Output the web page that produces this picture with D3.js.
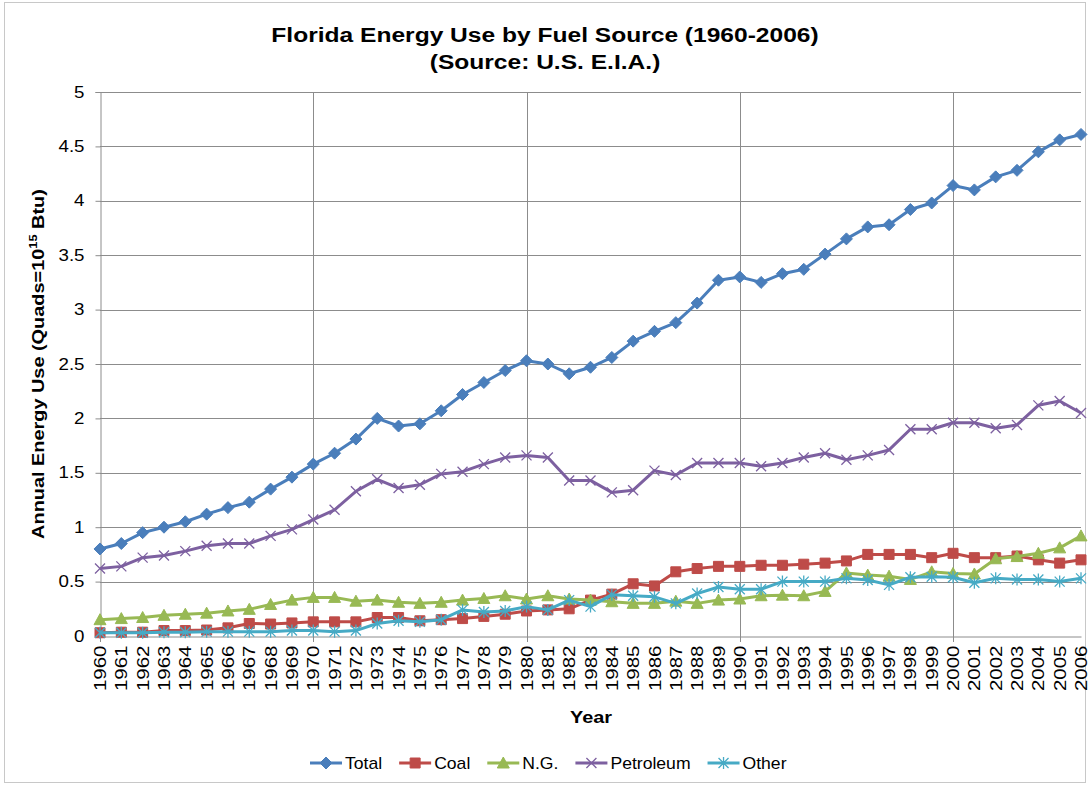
<!DOCTYPE html>
<html>
<head>
<meta charset="utf-8">
<script src="https://cdn.jsdelivr.net/npm/d3@7"></script>
<style>
  body { margin: 0; background: #fff; }
  text { font-family: "Liberation Sans", Arial, sans-serif; fill: #000; }
</style>
</head>
<body>
<div id="chart"></div>
<script>
let years = d3.range(1960, 2007);
let total = [0.80, 0.85, 0.95, 1.00, 1.05, 1.12, 1.18, 1.23, 1.35, 1.46,
    1.58, 1.68, 1.81, 2.00, 1.93, 1.95, 2.07, 2.22, 2.33, 2.44,
    2.53, 2.50, 2.41, 2.47, 2.56, 2.71, 2.80, 2.88, 3.06, 3.27,
    3.30, 3.25, 3.33, 3.37, 3.51, 3.65, 3.76, 3.78, 3.92, 3.98,
    4.14, 4.10, 4.22, 4.28, 4.45, 4.56, 4.61];
let coal = [0.03, 0.035, 0.035, 0.05, 0.05, 0.055, 0.075, 0.115, 0.11, 0.12,
    0.13, 0.13, 0.13, 0.17, 0.17, 0.14, 0.15, 0.16, 0.18, 0.20,
    0.23, 0.24, 0.25, 0.33, 0.385, 0.48, 0.46, 0.59, 0.62, 0.64,
    0.64, 0.65, 0.65, 0.66, 0.67, 0.69, 0.75, 0.75, 0.75, 0.72,
    0.76, 0.72, 0.72, 0.735, 0.70, 0.67, 0.70];
let ng = [0.15, 0.16, 0.17, 0.19, 0.20, 0.21, 0.23, 0.245, 0.29, 0.33,
    0.355, 0.355, 0.32, 0.33, 0.31, 0.30, 0.31, 0.33, 0.345, 0.37,
    0.34, 0.37, 0.34, 0.33, 0.315, 0.30, 0.30, 0.32, 0.30, 0.33,
    0.34, 0.37, 0.375, 0.37, 0.41, 0.58, 0.56, 0.55, 0.52, 0.59,
    0.575, 0.57, 0.71, 0.73, 0.76, 0.81, 0.92];
let petroleum = [0.62, 0.64, 0.72, 0.74, 0.78, 0.83, 0.85, 0.85, 0.92, 0.98,
    1.07, 1.16, 1.33, 1.44, 1.36, 1.39, 1.49, 1.51, 1.58, 1.64,
    1.66, 1.64, 1.43, 1.43, 1.32, 1.34, 1.52, 1.48, 1.59, 1.59,
    1.59, 1.56, 1.59, 1.64, 1.68, 1.62, 1.66, 1.71, 1.90, 1.90,
    1.96, 1.96, 1.91, 1.94, 2.12, 2.16, 2.05];
let other = [0.03, 0.03, 0.03, 0.035, 0.035, 0.04, 0.04, 0.04, 0.04, 0.05,
    0.05, 0.04, 0.05, 0.115, 0.14, 0.13, 0.15, 0.24, 0.22, 0.23,
    0.27, 0.24, 0.33, 0.27, 0.38, 0.37, 0.36, 0.30, 0.39, 0.45,
    0.43, 0.43, 0.50, 0.50, 0.50, 0.53, 0.515, 0.47, 0.54, 0.545,
    0.54, 0.49, 0.53, 0.52, 0.52, 0.50, 0.53];
let yTicks = [0, 0.5, 1, 1.5, 2, 2.5, 3, 3.5, 4, 4.5, 5];

let seriesList = [
    { name: 'Total', values: total, color: '#4a7ebb', marker: 'diamond' },
    { name: 'Coal', values: coal, color: '#be4b48', marker: 'square' },
    { name: 'N.G.', values: ng, color: '#98b954', marker: 'triangle' },
    { name: 'Petroleum', values: petroleum, color: '#7d60a0', marker: 'x' },
    { name: 'Other', values: other, color: '#46aac5', marker: 'star' }
];

let width = 1090;
let height = 786;
let plot = { left: 100, right: 1081, top: 92, bottom: 636 };
// the reference text is drawn a little wider than normal
let stretch = 1.17;

let svg = d3.select('#chart').append('svg')
    .attr('width', width)
    .attr('height', height);

// outer frame
svg.append('rect')
    .attr('x', 4.5).attr('y', 2.5)
    .attr('width', 1081).attr('height', 780)
    .attr('fill', '#fff')
    .attr('stroke', '#c8c8c8');

let x = d3.scalePoint().domain(years).range([plot.left, plot.right]);
let y = d3.scaleLinear().domain([0, 5]).range([plot.bottom, plot.top]);

// gridlines
svg.append('g').selectAll('line')
    .data(yTicks.slice(1))
    .enter().append('line')
    .attr('x1', plot.left).attr('x2', plot.right)
    .attr('y1', d => Math.round(y(d)) + 0.5).attr('y2', d => Math.round(y(d)) + 0.5)
    .attr('stroke', '#8c8c8c');
svg.append('g').selectAll('line')
    .data(years.filter(d => d % 10 == 0 && d != 1960))
    .enter().append('line')
    .attr('x1', d => Math.round(x(d)) + 0.5).attr('x2', d => Math.round(x(d)) + 0.5)
    .attr('y1', plot.top).attr('y2', plot.bottom)
    .attr('stroke', '#8c8c8c');

// y axis
let yAxis = svg.append('g')
    .attr('transform', 'translate(' + (plot.left + 0.5) + ',0)')
    .call(d3.axisLeft(y).tickValues(yTicks).tickSize(5)
        .tickFormat(d => String(d)));
yAxis.select('.domain').attr('stroke', '#8c8c8c');
yAxis.selectAll('.tick line').attr('stroke', '#8c8c8c');
yAxis.selectAll('text')
    .style('font-size', '16px')
    .attr('fill', '#000')
    .attr('x', 0)
    .attr('transform', 'translate(-16,0) scale(' + stretch + ',1)');

// x axis
let xAxis = svg.append('g')
    .attr('transform', 'translate(0,' + (plot.bottom + 0.5) + ')')
    .call(d3.axisBottom(x).tickSize(0).tickPadding(0));
xAxis.select('.domain').attr('stroke', '#8c8c8c');
xAxis.selectAll('text')
    .style('font-size', '16px')
    .attr('fill', '#000')
    .attr('x', 0).attr('y', 0).attr('dy', '0.35em')
    .attr('transform', 'rotate(-90) translate(-9,0) scale(1.28,1)')
    .attr('text-anchor', 'end');
svg.append('g').selectAll('line')
    .data(years.filter(d => d % 10 == 0))
    .enter().append('line')
    .attr('x1', d => Math.round(x(d)) + 0.5).attr('x2', d => Math.round(x(d)) + 0.5)
    .attr('y1', plot.bottom).attr('y2', plot.bottom + 6)
    .attr('stroke', '#8c8c8c');

// markers
function markerPath(type) {
    switch (type) {
        case 'diamond': return 'M0,-6L6,0L0,6L-6,0Z';
        case 'square': return 'M-5,-5H5V5H-5Z';
        case 'triangle': return 'M0,-6L6,5H-6Z';
        case 'x': return 'M-5,-5L5,5M-5,5L5,-5';
        case 'star': return 'M-5,-5L5,5M-5,5L5,-5M0,-6V6';
    }
}

function drawMarker(g, s, px, py) {
    let open = s.marker == 'x' || s.marker == 'star';
    g.append('path')
        .attr('d', markerPath(s.marker))
        .attr('transform', 'translate(' + px + ',' + py + ')')
        .attr('fill', open ? 'none' : s.color)
        .attr('stroke', s.color)
        .attr('stroke-width', open ? 1.3 : 1);
}

let line = d3.line()
    .x((d, i) => x(years[i]))
    .y(d => y(d));

seriesList.forEach(function (s) {
    let g = svg.append('g');
    g.append('path')
        .attr('d', line(s.values))
        .attr('fill', 'none')
        .attr('stroke', s.color)
        .attr('stroke-width', 3)
        .attr('stroke-linejoin', 'round');
    s.values.forEach(function (v, i) {
        drawMarker(g, s, x(years[i]), y(v));
    });
});

// titles
function stretchedText(px, py, size, bold, str) {
    return svg.append('text')
        .attr('transform', 'translate(' + px + ',' + py + ') scale(' + stretch + ',1)')
        .attr('text-anchor', 'middle')
        .style('font-size', size + 'px')
        .style('font-weight', bold ? 'bold' : 'normal')
        .text(str);
}
stretchedText(545, 42, 21, true, 'Florida Energy Use by Fuel Source (1960-2006)');
stretchedText(545, 69, 21, true, '(Source: U.S. E.I.A.)');
stretchedText(591, 723, 17, true, 'Year');

let yTitle = svg.append('text')
    .attr('transform', 'translate(44,' + ((plot.top + plot.bottom) / 2) + ') rotate(-90) scale(' + stretch + ',1)')
    .attr('text-anchor', 'middle')
    .style('font-size', '17px').style('font-weight', 'bold');
yTitle.append('tspan').text('Annual Energy Use (Quads=10');
yTitle.append('tspan').attr('dy', -7).style('font-size', '11px').text('15');
yTitle.append('tspan').attr('dy', 7).text(' Btu)');

// legend
let legendStretch = 1.1;
let legend = svg.append('g');
let lx = 310;
let ly = 763;
seriesList.forEach(function (s) {
    legend.append('line')
        .attr('x1', lx).attr('x2', lx + 32)
        .attr('y1', ly).attr('y2', ly)
        .attr('stroke', s.color).attr('stroke-width', 3);
    drawMarker(legend, s, lx + 16, ly);
    let t = legend.append('text')
        .attr('transform', 'translate(' + (lx + 35) + ',' + (ly + 6) + ') scale(' + legendStretch + ',1)')
        .style('font-size', '16px')
        .text(s.name);
    lx += 35 + t.node().getComputedTextLength() * legendStretch + 17;
});
</script>
</body>
</html>
